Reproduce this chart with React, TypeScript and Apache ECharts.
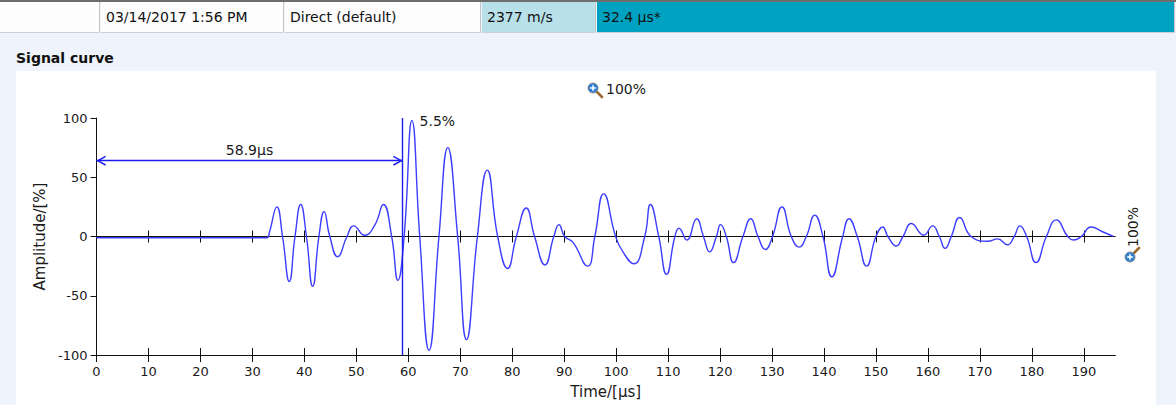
import React, { useEffect, useRef } from "react";
import * as echarts from "echarts";

// ---- data ----
const times = [
  0, 32.8, 33.3, 34.7, 35.8, 37.1, 38.2, 39.3, 40.4, 41.6,
  42.8, 43.8, 44.9, 46.4, 48.2, 49.5, 51.6, 53.6, 55.2, 56.8,
  58.0, 59.2, 60.7, 62.2, 64.0, 65.9, 67.6, 69.5, 71.2, 73.3,
  75.2, 77.2, 79.1, 80.8, 82.7, 84.3, 86.3, 88.0, 89.0, 90.1,
  91.7, 94.5, 95.9, 97.6, 99.9, 101.3, 103.4, 105.5, 106.6, 108.2,
  109.7, 111.3, 112.1, 113.6, 115.5, 116.8, 118.0, 119.3, 120.1, 121.2,
  122.6, 124.4, 125.9, 127.3, 128.7, 130.1, 131.9, 133.7, 135.2, 136.6,
  138.2, 139.8, 141.5, 143.6, 144.8, 146.4, 148.2, 150.0, 151.3, 152.3,
  153.9, 155.2, 156.8, 159.2, 160.9, 162.2, 163.3, 164.5, 166.1, 168.3,
  171.5, 173.4, 175.3, 176.6, 177.7, 179.0, 180.8, 182.8, 184.7, 186.9,
  188.0, 189.5, 191.4, 193.6, 195.7,
];
const amps = [
  -1, -1, 4, 25, 0, -38, 0, 27, 0, -42,
  0, 21, 0, -17, 0, 9, 1, 10, 27, 0,
  -37, 0, 98, 0, -96, 0, 75, 0, -87, 0,
  56, 0, -27, 0, 24, 0, -24, 0, 10, 0,
  -5, -25, 0, 36, 0, -13, -23, 0, 27, 0,
  -32, 0, 7, -3, 15, 0, -13, 0, 10, 0,
  -22, 0, 15, 0, -11, 0, 25, 0, -9, 0,
  18, 0, -34, 0, 15, 0, -25, 0, 8, 0,
  -8, 0, 11, 1, 9, 0, -10, 0, 16, 0,
  -4, -2, -7, 0, 9, 0, -22, 0, 14, 0,
  -3, 0, 8, 4, 0,
];
const xTicks = [0, 10, 20, 30, 40, 50, 60, 70, 80, 90, 100, 110, 120, 130, 140, 150, 160, 170, 180, 190];
const yTicks = [-100, -50, 0, 50, 100];
const xMax = 196;
const markerTime = 58.9;
const arrowLevel = 64;
const markerLabel = "58.9µs";
const peakLabel = "5.5%";
const zoomLabel = "100%";

const headerCells = [
  { text: "", width: 101, bg: "#fdfdfd" },
  { text: "03/14/2017 1:56 PM", width: 184, bg: "#fdfdfd" },
  { text: "Direct (default)", width: 197, bg: "#fdfdfd" },
  { text: "2377 m/s", width: 115, bg: "#b8e0e8" },
  { text: "32.4 µs*", width: 579, bg: "#00a2c1" },
];

const FONT = "'DejaVu Sans', Verdana, sans-serif";
const TXT = "#1a1a1a";
const BLUE = "#3d3dff";

// open chevron whose tip sits at the symbol centre (an invisible speck extends the box)
const chevron = "path://M5,-9 L5.01,-9 L5,-8.99 Z M5,0 L10,9 L8.6,9.6 L5,3 L1.4,9.6 L0,9 Z";

function magnifier(cx: number, cy: number, hx: number, hy: number) {
  return {
    type: "group",
    children: [
      { type: "line", shape: { x1: cx, y1: cy, x2: hx, y2: hy }, style: { stroke: "#9a6a2e", lineWidth: 2.6, lineCap: "round" } },
      { type: "circle", shape: { cx, cy, r: 5 }, style: { fill: "#2f7fd6", stroke: "#8c8c8c", lineWidth: 1 } },
      { type: "line", shape: { x1: cx - 2.8, y1: cy, x2: cx + 2.8, y2: cy }, style: { stroke: "#fff", lineWidth: 1.6 } },
      { type: "line", shape: { x1: cx, y1: cy - 2.8, x2: cx, y2: cy + 2.8 }, style: { stroke: "#fff", lineWidth: 1.6 } },
    ],
  };
}

function Chart() {
  const ref = useRef<HTMLDivElement>(null);
  useEffect(() => {
    if (!ref.current) return;
    const chart = echarts.init(ref.current, null, { renderer: "svg" });
    const data = times.map((t, i) => [t, amps[i]]);
    const axisLineStyle = { color: "#111", width: 1 };
    const baseX = {
      type: "value",
      min: 0,
      max: xMax,
      interval: 10,
      position: "bottom",
      splitLine: { show: false },
    };
    chart.setOption({
      animation: false,
      grid: { left: 96.5, right: 61, top: 118, bottom: 50, containLabel: false },
      xAxis: [
        {
          ...baseX,
          axisLine: { onZero: false, lineStyle: axisLineStyle },
          axisTick: { customValues: xTicks, length: 7, inside: false, lineStyle: axisLineStyle },
          axisLabel: { customValues: xTicks, margin: 10, color: TXT, fontSize: 13, fontFamily: FONT },
          name: "Time/[µs]",
          nameLocation: "middle",
          nameGap: 29,
          nameTextStyle: { color: TXT, fontSize: 15, fontFamily: FONT },
        },
        {
          ...baseX,
          axisLine: { onZero: false, lineStyle: axisLineStyle },
          axisTick: { customValues: xTicks, length: 7, inside: true, lineStyle: axisLineStyle },
          axisLabel: { show: false },
        },
        {
          ...baseX,
          axisLine: { onZero: true, onZeroAxisIndex: 0, lineStyle: axisLineStyle },
          axisTick: { customValues: xTicks, length: 6, inside: false, lineStyle: axisLineStyle },
          axisLabel: { show: false },
        },
        {
          ...baseX,
          axisLine: { onZero: true, onZeroAxisIndex: 0, lineStyle: axisLineStyle },
          axisTick: { customValues: xTicks, length: 6, inside: true, lineStyle: axisLineStyle },
          axisLabel: { show: false },
        },
      ],
      yAxis: {
        type: "value",
        min: -100,
        max: 100,
        interval: 50,
        position: "left",
        axisLine: { onZero: false, lineStyle: axisLineStyle },
        axisTick: { customValues: yTicks, length: 6, lineStyle: axisLineStyle },
        axisLabel: { customValues: yTicks, margin: 9, color: TXT, fontSize: 13, fontFamily: FONT },
        splitLine: { show: false },
        name: "Amplitude/[%]",
        nameLocation: "middle",
        nameGap: 39,
        nameTextStyle: { color: TXT, fontSize: 15, fontFamily: FONT },
      },
      series: [
        {
          type: "line",
          data,
          smooth: 0.5,
          symbol: "none",
          lineStyle: { color: BLUE, width: 1.4 },
          z: 3,
          markLine: {
            silent: true,
            symbol: ["none", "none"],
            lineStyle: { color: "#1c1cf0", width: 1.4, type: "solid" },
            data: [
              [
                { coord: [0, arrowLevel], symbol: chevron, symbolSize: [10, 19] },
                { coord: [markerTime, arrowLevel], symbol: chevron, symbolSize: [10, 19] },
              ],
              { xAxis: markerTime, label: { show: false } },
            ],
            label: {
              show: true,
              position: "middle",
              formatter: markerLabel,
              color: TXT,
              fontSize: 14,
              fontFamily: FONT,
              distance: 4,
            },
          },
          markPoint: {
            silent: true,
            symbol: "circle",
            symbolSize: 0,
            data: [{ coord: [markerTime, 100] }],
            label: {
              show: true,
              formatter: peakLabel,
              position: [17, -4],
              color: TXT,
              fontSize: 14,
              fontFamily: FONT,
            },
          },
        },
      ],
      graphic: [
        magnifier(593, 88, 602, 97),
        {
          type: "text",
          x: 606,
          y: 89,
          style: { text: zoomLabel, fill: TXT, font: `14px ${FONT}`, verticalAlign: "middle", align: "left" },
        },
        {
          type: "text",
          x: 1133,
          y: 227,
          rotation: Math.PI / 2,
          style: { text: zoomLabel, fill: TXT, font: `14px ${FONT}`, verticalAlign: "middle", align: "center" },
        },
        magnifier(1130, 257, 1139, 248),
      ],
    });
    return () => chart.dispose();
  }, []);
  return <div ref={ref} style={{ position: "absolute", left: 0, top: 0, width: 1176, height: 405 }} />;
}

export default function App() {
  let x = 0;
  return (
    <div
      style={{
        position: "absolute",
        left: 0,
        top: 0,
        width: 1176,
        height: 405,
        overflow: "hidden",
        background: "#eff3fb",
        fontFamily: FONT,
      }}
    >
      <div style={{ position: "absolute", left: 0, top: 0, width: 1176, height: 2, background: "#6e6e6e" }} />
      {headerCells.map((c, i) => {
        const left = x;
        x += c.width;
        return (
          <div
            key={i}
            style={{
              position: "absolute",
              left,
              top: 2,
              width: c.width - 1,
              height: 31,
              background: c.bg,
              borderRight: "1px solid #c6c6c6",
              borderBottom: "1px solid #cfcfcf",
              color: "#111",
              fontSize: 14,
              lineHeight: "31px",
              paddingLeft: 5,
              boxSizing: "border-box",
              whiteSpace: "nowrap",
            }}
          >
            {c.text}
          </div>
        );
      })}
      <div
        style={{
          position: "absolute",
          left: 16,
          top: 49,
          fontSize: 14,
          fontWeight: "bold",
          color: "#111",
          lineHeight: "18px",
        }}
      >
        Signal curve
      </div>
      <div style={{ position: "absolute", left: 16, top: 71, width: 1140, height: 340, background: "#ffffff" }} />
      <Chart />
    </div>
  );
}
